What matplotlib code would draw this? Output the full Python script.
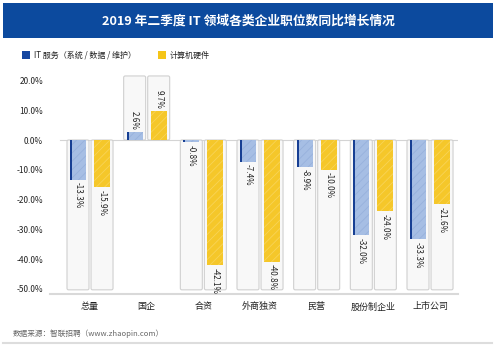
import matplotlib
matplotlib.use('Agg')
import matplotlib.pyplot as plt
from matplotlib.patches import FancyBboxPatch, Rectangle
from matplotlib.lines import Line2D

plt.rcParams['font.family'] = ['Noto Sans CJK SC', 'DejaVu Sans']
plt.rcParams['hatch.linewidth'] = 0.6

categories = ['总量', '国企', '合资', '外商独资', '民营', '股份制企业', '上市公司']
it_service = [-13.3, 2.6, -0.8, -7.4, -8.9, -32.0, -33.3]
hardware = [-15.9, 9.7, -42.1, -40.8, -10.0, -24.0, -21.6]
yticks = [20, 10, 0, -10, -20, -30, -40, -50]

W, H = 500, 349
fig = plt.figure(figsize=(5, 3.49), dpi=100)
fig.patch.set_facecolor('white')


def fx(px):
    return px / W


def fy(py):
    return 1 - py / H


# title band
fig.add_artist(Rectangle((fx(3), fy(38)), fx(490), 35 / H,
                         transform=fig.transFigure, color='#0c4a9e', lw=0))
fig.text(fx(248), fy(21), '2019 年二季度 IT 领域各类企业职位数同比增长情况',
         color='white', fontsize=9.2, fontweight='bold', ha='center', va='center')

# legend
fig.add_artist(Rectangle((fx(22), fy(59)), fx(8), 8 / H,
                         transform=fig.transFigure, color='#1546a0', lw=0))
fig.text(fx(34), fy(55), 'IT 服务（系统 / 数据 / 维护）', fontsize=5.8,
         color='#222222', ha='left', va='center')
fig.add_artist(Rectangle((fx(158), fy(59)), fx(8), 8 / H,
                         transform=fig.transFigure, color='#f5c518', lw=0))
fig.text(fx(170), fy(55), '计算机硬件', fontsize=5.8,
         color='#222222', ha='left', va='center')

ax = fig.add_axes([fx(50), fy(294), fx(408), (294 - 70) / H])
ax.set_xlim(-0.706, 6.494)
ax.set_ylim(-51.7, 23.5)
ax.set_facecolor('white')

# x units are ~56.7 px, y units ~2.98 px
aspect = 56.67 / 2.98
box_w = 0.388
bar_w = 0.282
offset = 0.212

ax.plot([-0.53, 6.494], [0, 0], color='#d4d4d4', lw=0.8, zorder=1)

series = [
    (it_service, -offset, '#a6bee4', '#97b1dc'),
    (hardware, offset, '#f5c72a', '#f8d457'),
]

for values, shift, fill, hatch_col in series:
    for i, v in enumerate(values):
        cx = i + shift
        if v >= 0:
            y0, h = 0, 21.5
        else:
            y0, h = -50.3, 50.3
        box = FancyBboxPatch((cx - box_w / 2, y0), box_w, h,
                             boxstyle='round,pad=0,rounding_size=0.028',
                             mutation_aspect=aspect,
                             facecolor='#f8f8f8', edgecolor='#d0d0d0',
                             lw=0.8, zorder=2)
        ax.add_patch(box)
        ax.bar(cx, v, width=bar_w, color=fill, hatch='////',
               edgecolor=hatch_col, linewidth=0, zorder=3)
        if values is it_service:
            ax.bar(cx - bar_w / 2 + 0.018, v, width=0.036,
                   color='#173f93', linewidth=0, zorder=4)
        label = f'{v:.1f}%'
        if v >= 0:
            ax.text(cx, v + 0.8, label, rotation=-90, ha='center', va='bottom',
                    fontsize=5.8, color='#222222', zorder=5)
        else:
            ax.text(cx, v - 0.8, label, rotation=-90, ha='center', va='top',
                    fontsize=5.8, color='#222222', zorder=5)

ax.set_yticks(yticks)
ax.set_yticklabels([f'{t:.1f}%' for t in yticks], fontsize=6, color='#222222')
ax.set_xticks(range(len(categories)))
ax.set_xticklabels(categories, fontsize=6.5, color='#222222')
ax.tick_params(axis='both', length=0)
ax.tick_params(axis='y', pad=5)
ax.tick_params(axis='x', pad=6)
for side in ['top', 'right', 'left']:
    ax.spines[side].set_visible(False)
ax.spines['bottom'].set_color('#d9d9d9')
ax.spines['bottom'].set_linewidth(1.5)

# footer
fig.text(fx(13), fy(334), '数据来源：智联招聘（www.zhaopin.com）', fontsize=5.5,
         color='#666666', ha='left', va='center')
fig.add_artist(Line2D([fx(3), fx(492)], [fy(343), fy(343)],
                      transform=fig.transFigure, color='#dddddd', lw=1.5))

fig.savefig('out.png', dpi=100)
